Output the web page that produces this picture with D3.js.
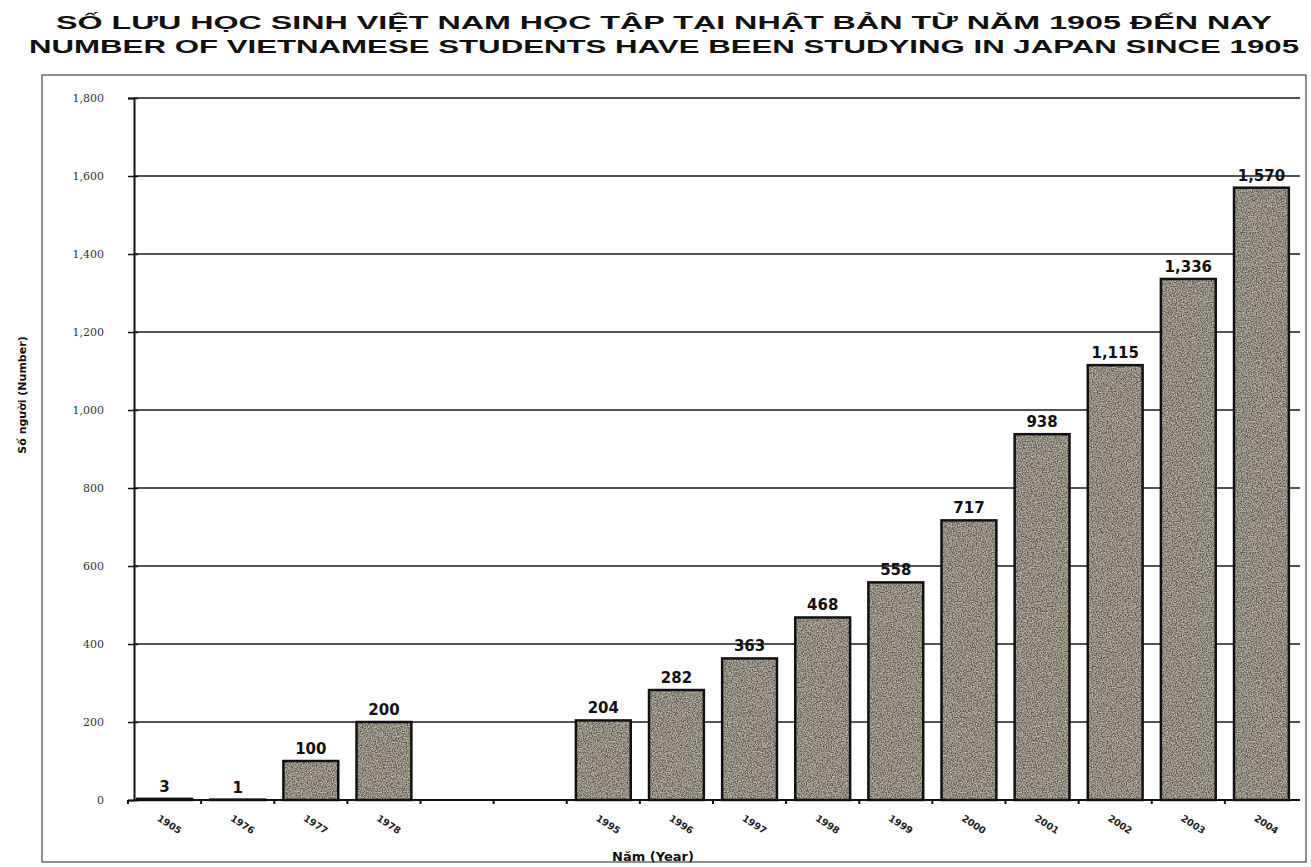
<!DOCTYPE html>
<html><head><meta charset="utf-8">
<script src="https://cdn.jsdelivr.net/npm/d3@7/dist/d3.min.js"></script>
<style>body{margin:0;background:#fff;} svg{display:block;}</style>
</head><body>
<svg id="c" width="1311" height="867"></svg>
<script>
const categories = ["1905","1976","1977","1978","gap1","gap2","1995","1996","1997","1998","1999","2000","2001","2002","2003","2004"];
const values =     [3, 1, 100, 200, null, null, 204, 282, 363, 468, 558, 717, 938, 1115, 1336, 1570];
const yTicks = [0,200,400,600,800,1000,1200,1400,1600,1800];
const titleLines = ["SỐ LƯU HỌC SINH VIỆT NAM HỌC TẬP TẠI NHẬT BẢN TỪ NĂM 1905 ĐẾN NAY",
                    "NUMBER OF VIETNAMESE STUDENTS HAVE BEEN STUDYING IN JAPAN SINCE 1905"];
const yTitle = "Số người (Number)";
const xTitle = "Năm (Year)";

const svg = d3.select("#c");
const defs = svg.append("defs");
const f = defs.append("filter").attr("id","grain").attr("x",0).attr("y",0).attr("width",1).attr("height",1);
f.append("feTurbulence").attr("type","fractalNoise").attr("baseFrequency",0.8).attr("numOctaves",2).attr("seed",3).attr("result","n");
f.append("feColorMatrix").attr("in","n").attr("type","matrix")
 .attr("values","0 0 0 0 0.62  0 0 0 0 0.58  0 0 0 0 0.48  0 0 0 -1.8 1.25").attr("result","m");
f.append("feComposite").attr("in","m").attr("in2","SourceGraphic").attr("operator","atop");

// frame
svg.append("rect").attr("x",42).attr("y",75).attr("width",1264).attr("height",787)
  .attr("fill","none").attr("stroke","#444").attr("stroke-width",1.2);

// titles
svg.selectAll(".title").data(titleLines).join("text")
  .attr("x",664).attr("y",(d,i)=>29+i*24)
  .attr("text-anchor","middle")
  .attr("font-family","Liberation Sans, Arial, sans-serif")
  .attr("font-weight","bold").attr("font-size",19)
  .attr("textLength",(d,i)=> i===0?1216:1270).attr("lengthAdjust","spacingAndGlyphs")
  .attr("fill","#111").text(d=>d);

const x = d3.scaleBand().domain(categories).range([128,1298]).paddingInner(0.25).paddingOuter(0.125);
const y = d3.scaleLinear().domain([0,1800]).range([800,98]);
const x0 = 134, x1 = 1300;

// gridlines
svg.append("g").selectAll("line").data(yTicks.filter(d=>d>0)).join("line")
  .attr("x1",x0).attr("x2",x1).attr("y1",d=>y(d)).attr("y2",d=>y(d))
  .attr("stroke","#1a1a1a").attr("stroke-width",1.6);

// bars
const bd = categories.map((c,i)=>({c, v: values[i]})).filter(d=>d.v!==null);
const bars = svg.append("g");
bars.selectAll("rect.fill").data(bd).join("rect").attr("class","fill")
  .attr("x",d=>x(d.c)).attr("width",x.bandwidth())
  .attr("y",d=>y(d.v)).attr("height",d=>y(0)-y(d.v))
  .attr("fill","#5e584c").attr("filter","url(#grain)");
bars.selectAll("rect.edge").data(bd).join("rect").attr("class","edge")
  .attr("x",d=>x(d.c)).attr("width",x.bandwidth())
  .attr("y",d=>y(d.v)).attr("height",d=>y(0)-y(d.v))
  .attr("fill","none").attr("stroke","#111").attr("stroke-width",2.5);

// value labels
svg.append("g").selectAll("text").data(bd).join("text")
  .attr("x",d=>x(d.c)+x.bandwidth()/2).attr("y",d=>y(d.v)-7)
  .attr("text-anchor","middle")
  .attr("font-family","DejaVu Sans, sans-serif").attr("font-weight","bold").attr("font-size",15)
  .attr("fill","#111").text(d=>d3.format(",")(d.v));

// y axis
const ya = svg.append("g").attr("transform",`translate(${x0},0)`)
  .call(d3.axisLeft(y).tickValues(yTicks).tickFormat(d3.format(",")).tickSize(6).tickPadding(24));
ya.select(".domain").attr("stroke","#111").attr("stroke-width",2);
ya.selectAll(".tick line").attr("stroke","#111").attr("stroke-width",1.5).attr("x2",-6).attr("x1",4);
ya.selectAll("text").attr("font-family","DejaVu Serif, serif").attr("font-size",11).attr("fill","#333");

// x axis
const xa = svg.append("g").attr("transform",`translate(0,${y(0)})`)
  .call(d3.axisBottom(x).tickFormat(d=>d.startsWith("gap")?"":d).tickSize(0).tickPadding(0));
xa.select(".domain").attr("d",`M${x0},0H${x1}`).attr("stroke","#111").attr("stroke-width",2);
xa.selectAll("text")
  .attr("font-family","DejaVu Sans, sans-serif").attr("font-weight","bold").attr("font-size",9.5)
  .attr("text-anchor","start").attr("fill","#222")
  .attr("transform","translate(-8,20) rotate(33)").attr("dy","0");
// small ticks between categories
svg.append("g").selectAll("line").data(categories).join("line")
  .attr("x1",d=>x(d)-x.step()*x.paddingInner()/2).attr("x2",d=>x(d)-x.step()*x.paddingInner()/2)
  .attr("y1",y(0)).attr("y2",y(0)+4).attr("stroke","#111").attr("stroke-width",2);

// axis titles
svg.append("text").attr("transform","translate(26,395) rotate(-90)")
  .attr("text-anchor","middle").attr("font-family","DejaVu Sans, sans-serif")
  .attr("font-weight","bold").attr("font-size",11).attr("fill","#111").text(yTitle);
svg.append("text").attr("x",653).attr("y",861).attr("text-anchor","middle")
  .attr("font-family","DejaVu Sans, sans-serif").attr("font-weight","bold").attr("font-size",13)
  .attr("fill","#111").text(xTitle);
</script>
</body></html>
